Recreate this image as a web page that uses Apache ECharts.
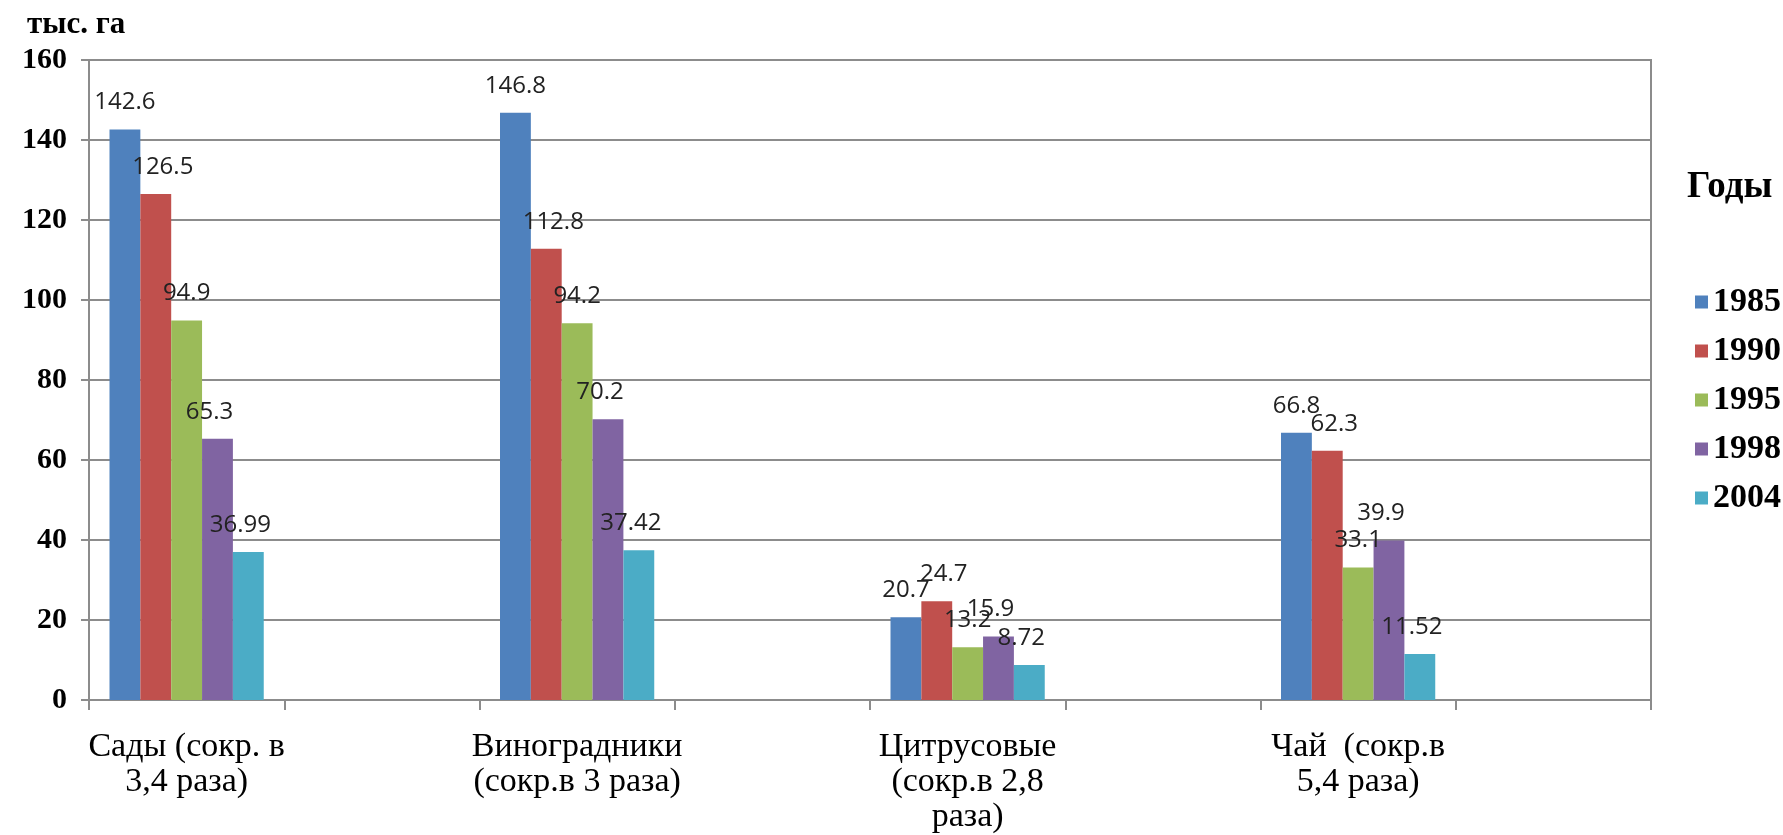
<!DOCTYPE html>
<html>
<head>
<meta charset="utf-8">
<script src="https://cdn.jsdelivr.net/npm/echarts@6/dist/echarts.min.js"></script>
<style>
html,body{margin:0;padding:0;background:#fff;}
#chart{width:1783px;height:835px;}
</style>
</head>
<body>
<div id="chart"></div>
<script>
// Categories (odd slots are empty spacer categories, as in the source chart)
const categories = ['Сады (сокр. в\n3,4 раза)', '', 'Виноградники\n(сокр.в 3 раза)', '', 'Цитрусовые\n(сокр.в 2,8\nраза)', '', 'Чай  (сокр.в\n5,4 раза)', ''];
const years = ['1985', '1990', '1995', '1998', '2004'];
const v1985 = [142.6, null, 146.8, null, 20.7, null, 66.8, null];
const v1990 = [126.5, null, 112.8, null, 24.7, null, 62.3, null];
const v1995 = [94.9, null, 94.2, null, 13.2, null, 33.1, null];
const v1998 = [65.3, null, 70.2, null, 15.9, null, 39.9, null];
const v2004 = [36.99, null, 37.42, null, 8.72, null, 11.52, null];
const yTicks = [0, 20, 40, 60, 80, 100, 120, 140, 160];

const seriesValues = [v1985, v1990, v1995, v1998, v2004];
const colors = ['#4F81BD', '#C0504D', '#9BBB59', '#8064A2', '#4BACC6'];
const labelOffsets = [[0, 0], [7, 0], [0, 0], [-8, 0], [-8, 0]];

const chart = echarts.init(document.getElementById('chart'));
const gridColor = '#8c8c8c';

chart.setOption({
  animation: false,
  backgroundColor: '#ffffff',
  title: [
    { text: 'тыс. га', left: 22, top: 4,
      textStyle: { fontFamily: 'Liberation Serif', fontWeight: 'bold', fontSize: 31, color: '#000' } },
    { text: 'Годы', left: 1682, top: 164,
      textStyle: { fontFamily: 'Liberation Serif', fontWeight: 'bold', fontSize: 37, color: '#000' } }
  ],
  legend: {
    orient: 'vertical',
    left: 1690,
    top: 280,
    itemWidth: 13,
    itemHeight: 13,
    itemGap: 15,
    icon: 'rect',
    data: years,
    textStyle: { fontFamily: 'Liberation Serif', fontWeight: 'bold', fontSize: 34, lineHeight: 34, color: '#000' }
  },
  grid: {
    left: 89, right: 132, top: 60, bottom: 130,
    show: true, borderColor: gridColor, borderWidth: 2, backgroundColor: 'transparent'
  },
  xAxis: {
    type: 'category',
    data: categories,
    boundaryGap: true,
    axisLine: { lineStyle: { color: gridColor, width: 2 } },
    axisTick: { show: true, interval: 0, length: 10, lineStyle: { color: gridColor, width: 2 } },
    axisLabel: {
      interval: 0, margin: 30,
      fontFamily: 'Liberation Serif', fontSize: 34, lineHeight: 35, color: '#000', align: 'center'
    }
  },
  yAxis: {
    type: 'value',
    min: yTicks[0],
    max: yTicks[yTicks.length - 1],
    interval: yTicks[1] - yTicks[0],
    axisLine: { show: true, lineStyle: { color: gridColor, width: 2 } },
    axisTick: { show: true, length: 8, lineStyle: { color: gridColor, width: 2 } },
    splitLine: { show: true, lineStyle: { color: gridColor, width: 2 } },
    axisLabel: {
      margin: 22,
      fontFamily: 'Liberation Serif', fontWeight: 'bold', fontSize: 30, color: '#000'
    }
  },
  series: years.map((y, i) => ({
    name: y,
    type: 'bar',
    data: seriesValues[i].map(v => (v === null ? '-' : v)),
    barGap: '0%',
    barCategoryGap: '21%',
    itemStyle: { color: colors[i] },
    label: {
      show: true,
      position: 'top',
      distance: 15,
      offset: labelOffsets[i],
      fontFamily: 'Open Sans',
      fontSize: 24,
      color: '#222',
      formatter: p => (p.value === '-' || p.value == null ? '' : String(p.value))
    }
  }))
});
</script>
</body>
</html>
